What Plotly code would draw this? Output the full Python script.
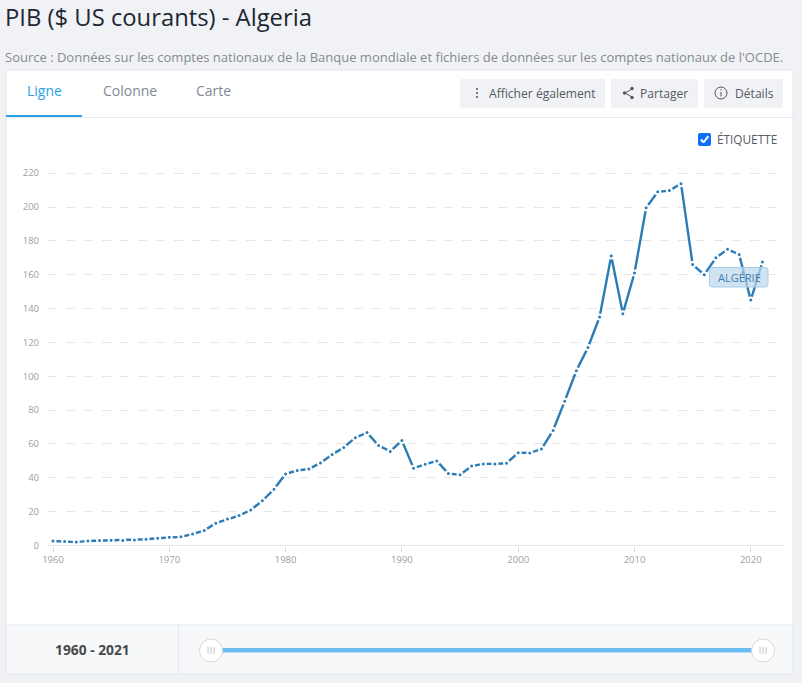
import plotly.graph_objects as go

# PIB de l'Algerie, milliards de $ US courants
annees = list(range(1960, 2022))
pib = [2.7, 2.4, 2.0, 2.7, 2.9, 3.1, 3.0, 3.2, 3.7, 4.3,
       4.9, 5.1, 6.8, 8.8, 13.2, 15.6, 17.7, 21.0, 26.4, 33.2,
       42.3, 44.3, 45.2, 48.8, 53.7, 57.9, 63.7, 66.7, 59.1, 55.6,
       62.0, 45.7, 48.0, 50.0, 42.5, 41.8, 46.9, 48.2, 48.2, 48.6,
       54.8, 54.7, 57.0, 68.0, 85.3, 103.2, 117.0, 135.0, 171.0, 137.0,
       161.0, 199.5, 209.0, 209.7, 213.8, 166.0, 160.0, 170.0, 175.0, 172.0,
       145.0, 167.5]
ticks_x = [1960, 1970, 1980, 1990, 2000, 2010, 2020]
ticks_y = list(range(0, 221, 20))
onglets = ['Ligne', 'Colonne', 'Carte']

W = 802
H = 683


def px(x):
    return x / W


def py(y):
    return 1 - y / H


def rect(x0, y0, x1, y1, fill, line=None, layer='below'):
    return dict(type='rect', xref='paper', yref='paper', x0=px(x0), x1=px(x1), y0=py(y0), y1=py(y1),
                fillcolor=fill, line=dict(color=line or fill, width=1 if line else 0), layer=layer)


def rond(x0, y0, x1, y1, r, fill, line=None, layer='below'):
    # rectangle a coins arrondis, en chemin svg
    p = lambda a, b: f'{px(a):.5f},{py(b):.5f}'
    path = (f'M {p(x0 + r, y0)} L {p(x1 - r, y0)} Q {p(x1, y0)} {p(x1, y0 + r)} '
            f'L {p(x1, y1 - r)} Q {p(x1, y1)} {p(x1 - r, y1)} L {p(x0 + r, y1)} '
            f'Q {p(x0, y1)} {p(x0, y1 - r)} L {p(x0, y0 + r)} Q {p(x0, y0)} {p(x0 + r, y0)} Z')
    return dict(type='path', xref='paper', yref='paper', path=path, fillcolor=fill,
                line=dict(color=line or fill, width=1 if line else 0), layer=layer)


def cercle(cx, cy, r, fill, line=None, width=1, layer='below'):
    return dict(type='circle', xref='paper', yref='paper', x0=px(cx - r), x1=px(cx + r), y0=py(cy - r), y1=py(cy + r),
                fillcolor=fill, line=dict(color=line or fill, width=width if line else 0), layer=layer)


def trait(x0, y0, x1, y1, color, width=1, layer='below'):
    return dict(type='line', xref='paper', yref='paper', x0=px(x0), x1=px(x1), y0=py(y0), y1=py(y1),
                line=dict(color=color, width=width), layer=layer)


def texte(x, y, s, size=12, color='#555', anchor='left', weight=None):
    return dict(xref='paper', yref='paper', x=px(x), y=py(y), text=s, showarrow=False, xanchor=anchor, yanchor='middle',
                font=dict(family='Open Sans', size=size, color=color, weight=weight), borderpad=0, borderwidth=0)


fig = go.Figure()
fig.add_trace(go.Scatter(x=annees, y=pib, mode='lines+markers', name='Algérie',
                         line=dict(color='#2b7cb6', width=2.4),
                         marker=dict(color='#2b7cb6', size=5, line=dict(color='white', width=2)),
                         hoverinfo='skip', showlegend=False))

shapes = [
    rect(6, 70, 793, 674, 'white', '#e4e7ec'),
    trait(6, 117.5, 793, 117.5, '#e8eaee'),
    rect(6, 115, 82, 117, '#2b9fe8'),
    rect(6, 625, 793, 674, '#f6f8fa', '#e4e7ec'),
    trait(178.5, 625, 178.5, 674, '#e4e7ec'),
    # boutons
    rond(460, 79, 605, 108, 2, '#f0f2f6'),
    rond(611, 79, 698, 108, 2, '#f0f2f6'),
    rond(704, 79, 783, 108, 2, '#f0f2f6'),
    # icone trois points
    cercle(477, 89, 1, '#555'), cercle(477, 93, 1, '#555'), cercle(477, 97, 1, '#555'),
    # icone partage
    trait(625, 93, 632, 89, '#555'), trait(625, 93, 632, 97, '#555'),
    cercle(624.5, 93, 1.7, '#555'), cercle(632, 88.5, 1.7, '#555'), cercle(632, 97.5, 1.7, '#555'),
    # icone info
    cercle(721, 93, 6, 'rgba(0,0,0,0)', '#555', 1),
    trait(721, 92, 721, 96.5, '#555'), cercle(721, 89.7, 0.7, '#555'),
    # case a cocher
    rond(698, 133, 711, 146, 2, '#0d6efd'),
    trait(701, 139.5, 703.6, 142.5, 'white', 2, 'above'), trait(703.6, 142.5, 708.3, 136.2, 'white', 2, 'above'),
    # etiquette de la serie
    rond(709.5, 267.5, 768, 287, 2.5, 'rgba(190,216,236,0.72)', '#a9cde9', 'above'),
    # curseur de periode
    rect(222, 648, 753, 652.5, '#6bbcf0'),
    cercle(211, 650.5, 11.5, 'white', '#d6d8da', 1),
    cercle(763, 650.5, 11.5, 'white', '#d6d8da', 1),
]
for cx in (211, 763):
    for dx in (-3, 0, 3):
        shapes.append(trait(cx + dx, 647, cx + dx, 654, '#c4c6c8'))

annots = [
    texte(5, 17, 'PIB ($ US courants) - Algeria', 23.8, '#1d2733'),
    texte(5, 57, "Source : Données sur les comptes nationaux de la Banque mondiale et fichiers de données sur les comptes nationaux de l'OCDE.", 13, '#868a90'),
    texte(44.5, 91, onglets[0], 14, '#2b9fe8', 'center'),
    texte(129.5, 91, onglets[1], 14, '#7f8b99', 'center'),
    texte(214, 91, onglets[2], 14, '#7f8b99', 'center'),
    texte(489, 93, 'Afficher également', 12.1, '#555b63'),
    texte(640, 93, 'Partager', 12.1, '#555b63'),
    texte(735, 93, 'Détails', 12.1, '#555b63'),
    texte(717, 139, 'ÉTIQUETTE', 11.8, '#555b63'),
    texte(739, 277, 'ALGÉRIE', 11, '#3f7fb0', 'center'),
    texte(92, 649.5, '1960 - 2021', 13.8, '#4a4a4a', 'center', 700),
]

fig.update_layout(
    width=W, height=H,
    margin=dict(l=0, r=0, t=0, b=0, autoexpand=False),
    paper_bgcolor='#f0f2f6', plot_bgcolor='white',
    font=dict(family='Open Sans', color='#999'),
    shapes=shapes, annotations=annots, showlegend=False,
    xaxis=dict(domain=[px(48), px(783)], range=[1959.57, 2022.77], tickvals=ticks_x, showgrid=False,
               zeroline=False, showline=False, ticks='outside', ticklen=5, tickcolor='#dcdcdc',
               tickfont=dict(size=9.5, color='#a0a0a0')),
    yaxis=dict(domain=[py(545.5), py(163)], range=[0, 226], tickvals=ticks_y, showgrid=True, griddash='dash',
               gridcolor='#e6e6e6', gridwidth=1, zeroline=True, zerolinecolor='#e3e6ea', zerolinewidth=1,
               showline=False, ticks='', ticklabelstandoff=8, tickfont=dict(size=9.5, color='#a0a0a0')),
)

fig.write_html("out.html", config=dict(displayModeBar=False),
               post_script="document.body.style.margin='0';document.body.style.overflow='hidden';")
